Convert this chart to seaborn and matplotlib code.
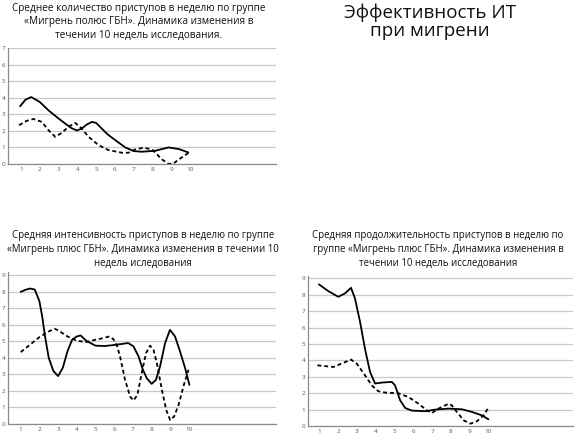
import numpy as np
import pandas as pd
import matplotlib
matplotlib.use("Agg")
import matplotlib.pyplot as plt
import seaborn as sns

# Данные
week_labels = [str(i) for i in range(1, 11)]

# 1. Среднее количество приступов
count_solid_x = [0.96, 1.25, 1.55, 2.0, 2.47, 3.0, 3.36, 3.7, 3.98, 4.24, 4.5, 4.78, 5.0, 5.3, 5.6, 6.02, 6.55, 7.0, 7.43, 8.15, 8.85, 9.4, 9.9]
count_solid_y = [3.48, 3.88, 4.04, 3.75, 3.24, 2.75, 2.44, 2.16, 2.02, 2.14, 2.38, 2.54, 2.48, 2.14, 1.8, 1.44, 1.0, 0.78, 0.74, 0.8, 1.0, 0.9, 0.7]
count_dash_x = [0.91, 1.3, 1.67, 2.12, 2.47, 2.83, 3.18, 3.53, 3.89, 4.24, 4.6, 5.13, 5.66, 6.37, 6.72, 7.08, 7.52, 7.97, 8.5, 8.85, 9.12, 9.48, 9.9]
count_dash_y = [2.34, 2.6, 2.72, 2.54, 2.04, 1.64, 1.88, 2.24, 2.48, 2.14, 1.64, 1.14, 0.84, 0.68, 0.68, 0.88, 0.98, 0.88, 0.28, 0.0, 0.04, 0.34, 0.66]

# 2. Средняя интенсивность приступов
int_solid_x = [1.0, 1.25, 1.5, 1.75, 2.0, 2.15, 2.3, 2.5, 2.75, 3.0, 3.25, 3.5, 3.75, 4.0, 4.2, 4.5, 5.0, 5.5, 6.13, 6.75, 7.03, 7.3, 7.52, 7.74, 8.0, 8.23, 8.45, 8.72, 8.98, 9.25, 9.52, 9.79, 10.02]
int_solid_y = [8.0, 8.12, 8.2, 8.14, 7.43, 6.5, 5.3, 4.0, 3.2, 2.9, 3.4, 4.4, 5.1, 5.3, 5.36, 5.04, 4.74, 4.72, 4.8, 4.9, 4.7, 4.09, 3.32, 2.77, 2.43, 2.67, 3.48, 4.9, 5.7, 5.3, 4.39, 3.38, 2.37]
int_dash_x = [1.0, 1.5, 2.0, 2.5, 2.8, 3.0, 3.5, 4.0, 4.5, 5.0, 5.42, 5.74, 5.95, 6.13, 6.31, 6.58, 6.85, 7.03, 7.24, 7.47, 7.7, 7.92, 8.1, 8.28, 8.55, 8.78, 8.99, 9.2, 9.44, 9.7, 9.97]
int_dash_y = [4.35, 4.8, 5.26, 5.6, 5.77, 5.67, 5.3, 5.04, 4.96, 5.1, 5.2, 5.3, 5.14, 4.8, 4.09, 2.67, 1.66, 1.42, 1.76, 3.08, 4.29, 4.74, 4.49, 3.68, 2.06, 0.85, 0.24, 0.45, 1.15, 2.27, 3.28]

# 3. Средняя продолжительность приступов
dur_solid_x = [0.98, 1.48, 2.01, 2.37, 2.69, 2.9, 3.17, 3.43, 3.7, 3.97, 4.33, 4.86, 5.03, 5.3, 5.57, 5.92, 6.63, 7.17, 7.88, 8.59, 9.12, 9.65, 10.0]
dur_solid_y = [8.64, 8.23, 7.88, 8.09, 8.43, 7.78, 6.35, 4.72, 3.3, 2.59, 2.65, 2.69, 2.48, 1.57, 1.1, 0.94, 0.9, 1.0, 1.06, 1.02, 0.86, 0.65, 0.41]
dur_dash_x = [0.9, 1.75, 2.19, 2.69, 2.99, 3.43, 3.79, 4.14, 4.5, 5.2, 5.74, 6.28, 6.72, 6.99, 7.34, 7.88, 8.05, 8.32, 8.68, 9.04, 9.39, 9.74, 9.97]
dur_dash_y = [3.7, 3.6, 3.81, 4.05, 3.81, 3.1, 2.48, 2.12, 2.04, 2.0, 1.77, 1.36, 0.96, 0.79, 1.06, 1.36, 1.26, 0.86, 0.35, 0.14, 0.29, 0.65, 1.06]

title_main = "Эффективность ИТ\nпри мигрени"
title_count = "Среднее количество приступов в неделю по группе\n«Мигрень полюс ГБН». Динамика изменения в\nтечении 10 недель исследования."
title_int = "Средняя интенсивность приступов в неделю по группе\n«Мигрень плюс ГБН». Динамика изменения в течении 10\nнедель иследования"
title_dur = "Средняя продолжительность приступов в неделю по\nгруппе «Мигрень плюс ГБН». Динамика изменения в\nтечении 10 недель исследования"

sns.set_style("white")
plt.rcParams["font.family"] = ["Open Sans", "DejaVu Sans"]

W, H = 576, 437
fig = plt.figure(figsize=(W / 100, H / 100), dpi=100)


def px_axes(left, right, top, bottom):
    return fig.add_axes([left / W, 1 - bottom / H, (right - left) / W, (bottom - top) / H])


def draw_panel(ax, sx, sy, dx, dy, ymax, xlim, ylim):
    sns.lineplot(x=sx, y=sy, ax=ax, color="black", lw=1.3, estimator=None)
    sns.lineplot(x=dx, y=dy, ax=ax, color="black", lw=1.3, estimator=None,
                 linestyle=(0, (2.2, 1.6)))
    ax.set_xlim(*xlim)
    ax.set_ylim(*ylim)
    ax.set_yticks(range(0, ymax + 1))
    ax.set_xticks(range(1, 11))
    ax.set_xticklabels(week_labels)
    ax.set_xticks([k + 0.45 for k in range(1, 13)], minor=True)
    ax.yaxis.grid(True, color="#c9c9c9", lw=0.9)
    ax.set_axisbelow(True)
    for s in ["top", "right"]:
        ax.spines[s].set_visible(False)
    for s in ["left", "bottom"]:
        ax.spines[s].set_color("#8a8a8a")
        ax.spines[s].set_linewidth(0.9)
    ax.tick_params(axis="x", which="major", length=0, pad=2, labelsize=4.6, labelcolor="#555555")
    ax.tick_params(axis="x", which="minor", direction="in", length=3.5, width=0.8, color="#8a8a8a")
    ax.tick_params(axis="y", which="major", length=1.2, width=0.6, color="#8a8a8a", pad=0.8,
                   labelsize=4.6, labelcolor="#555555")
    ax.set_xlabel("")
    ax.set_ylabel("")


ax1 = px_axes(8, 276, 48, 164)
draw_panel(ax1, count_solid_x, count_solid_y, count_dash_x, count_dash_y, 7, (0.32, 14.56), (0, 7.0))

ax2 = px_axes(8, 276, 272, 424)
draw_panel(ax2, int_solid_x, int_solid_y, int_dash_x, int_dash_y, 9, (0.32, 14.65), (0, 9.2))

ax3 = px_axes(308, 573, 276, 426)
draw_panel(ax3, dur_solid_x, dur_solid_y, dur_dash_x, dur_dash_y, 9, (0.4, 14.5), (0, 9.15))

fig.text(139 / W, 1 - 3 / H, title_count, ha="center", va="top", fontsize=7.2,
         color="#111111", linespacing=1.3)
fig.text(143 / W, 1 - 230 / H, title_int, ha="center", va="top", fontsize=6.9,
         color="#111111", linespacing=1.35)
fig.text(438 / W, 1 - 230 / H, title_dur, ha="center", va="top", fontsize=6.9,
         color="#111111", linespacing=1.35)
fig.text(430 / W, 1 - 3 / H, title_main, ha="center", va="top", fontsize=13.5,
         color="#111111", linespacing=1.0)

fig.savefig("out.png", dpi=100)
